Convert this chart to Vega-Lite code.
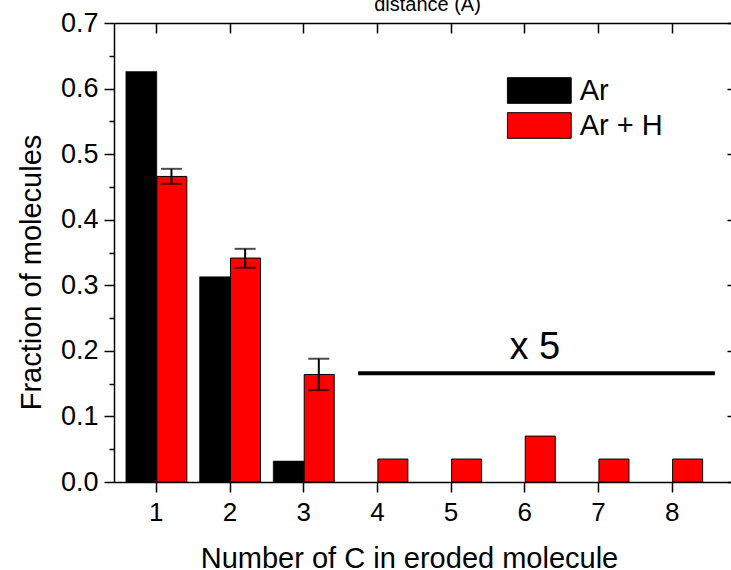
{
  "$schema": "https://vega.github.io/schema/vega-lite/v6.json",
  "autosize": {"type": "none"},
  "width": 617,
  "height": 459,
  "padding": {"left": 114, "top": 23, "right": 0, "bottom": 88},
  "background": "white",
  "config": {
    "font": "Liberation Sans",
    "view": {"stroke": null},
    "axis": {"domainColor": "black", "tickColor": "black", "labelColor": "black", "titleColor": "black", "domainWidth": 1.5, "tickWidth": 1.5, "grid": false, "titleFontWeight": "normal"},
    "legend": {
      "orient": "none", "legendX": 392.7, "legendY": 52.5, "padding": 0,
      "symbolType": "M-1,-0.4H1V0.4H-1Z", "symbolSize": 4096,
      "symbolStrokeColor": "black", "symbolStrokeWidth": 1,
      "labelFontSize": 29, "labelColor": "black", "labelOffset": 8,
      "clipHeight": 30, "rowPadding": 5
    }
  },
  "datasets": {
    "bars": [
      {"n": 1, "series": "Ar", "fraction": 0.626},
      {"n": 2, "series": "Ar", "fraction": 0.313},
      {"n": 3, "series": "Ar", "fraction": 0.032},
      {"n": 1, "series": "Ar + H", "fraction": 0.466, "lo": 0.4547, "hi": 0.4776},
      {"n": 2, "series": "Ar + H", "fraction": 0.3415, "lo": 0.3267, "hi": 0.3556},
      {"n": 3, "series": "Ar + H", "fraction": 0.164, "lo": 0.140, "hi": 0.188},
      {"n": 4, "series": "Ar + H", "fraction": 0.035},
      {"n": 5, "series": "Ar + H", "fraction": 0.035},
      {"n": 6, "series": "Ar + H", "fraction": 0.070},
      {"n": 7, "series": "Ar + H", "fraction": 0.035},
      {"n": 8, "series": "Ar + H", "fraction": 0.035}
    ],
    "scaleline": [{"from": 3.745, "to": 8.587, "level": 0.1658}],
    "scalelabel": [{"pos": 6.144, "level": 0.1876, "text": "x 5"}]
  },
  "resolve": {"axis": {"x": "independent", "y": "independent"}},
  "layer": [
    {
      "data": {"name": "bars"},
      "transform": [{"filter": "datum.series == 'Ar'"}],
      "mark": {"type": "bar", "width": 31, "xOffset": -14.5, "stroke": "black", "strokeWidth": 0.5},
      "encoding": {
        "x": {"field": "n", "type": "quantitative",
              "scale": {"domain": [0.5, 8.738], "nice": false, "zero": false},
              "axis": {"orient": "bottom", "values": [1,2,3,4,5,6,7,8], "tickSize": 10, "labelFontSize": 26, "labelPadding": 7, "labelFlush": false,
                       "title": "Number of C in eroded molecule", "titleFontSize": 29, "titleBaseline": "alphabetic", "titleX": 295, "titleY": 85, "titleAnchor": null, "titleAlign": "center"}},
        "y": {"field": "fraction", "type": "quantitative",
              "scale": {"domain": [0, 0.7], "nice": false},
              "axis": {"orient": "left", "values": [0,0.05,0.1,0.15,0.2,0.25,0.3,0.35,0.4,0.45,0.5,0.55,0.6,0.65,0.7],
                       "labelExpr": "round(datum.value*100) % 10 == 0 ? format(datum.value, '.1f') : ''",
                       "tickSize": {"condition": {"test": "round(datum.value*100) % 10 != 0", "value": 5}, "value": 10},
                       "labelFontSize": 27, "labelPadding": 6, "labelFlush": false,
                       "title": "Fraction of molecules", "titleFontSize": 29, "titleBaseline": "alphabetic", "titleX": -74, "titleY": 249, "titleAngle": -90, "titleAlign": "center"}},
        "color": {"field": "series", "type": "nominal",
                  "scale": {"domain": ["Ar", "Ar + H"], "range": ["#000000", "#ff0000"]},
                  "legend": {"title": null}}
      }
    },
    {
      "data": {"name": "bars"},
      "transform": [{"filter": "datum.series == 'Ar + H'"}],
      "mark": {"type": "bar", "width": 30, "xOffset": 16, "stroke": "black", "strokeWidth": 1},
      "encoding": {
        "x": {"field": "n", "type": "quantitative",
              "axis": {"orient": "top", "values": [1,2,3,4,5,6,7,8], "tickSize": -10, "labels": false,
                       "title": "distance (Å)", "titleFontSize": 20, "titleBaseline": "alphabetic", "titleX": 313, "titleY": -13, "titleAlign": "center"}},
        "y": {"field": "fraction", "type": "quantitative",
              "axis": {"orient": "right", "values": [0,0.1,0.2,0.3,0.4,0.5,0.6,0.7], "tickSize": -4, "labels": false, "domain": false, "title": null}},
        "color": {"field": "series", "type": "nominal", "legend": {"title": null}}
      }
    },
    {
      "data": {"name": "bars"},
      "transform": [{"filter": "isValid(datum.lo)"}],
      "mark": {"type": "rule", "xOffset": 15.6, "strokeWidth": 2, "color": "black"},
      "encoding": {
        "x": {"field": "n", "type": "quantitative", "axis": null},
        "y": {"field": "lo", "type": "quantitative", "axis": null},
        "y2": {"field": "hi"}
      }
    },
    {
      "data": {"name": "bars"},
      "transform": [{"filter": "isValid(datum.lo)"}, {"fold": ["lo", "hi"], "as": ["end", "level"]}],
      "mark": {"type": "tick", "orient": "horizontal", "xOffset": 15.6, "size": 21, "thickness": 2, "color": "black"},
      "encoding": {
        "x": {"field": "n", "type": "quantitative", "axis": null},
        "y": {"field": "level", "type": "quantitative", "axis": null}
      }
    },
    {
      "data": {"name": "scaleline"},
      "mark": {"type": "rule", "strokeWidth": 4, "color": "black"},
      "encoding": {
        "x": {"field": "from", "type": "quantitative", "axis": null},
        "x2": {"field": "to"},
        "y": {"field": "level", "type": "quantitative", "axis": null}
      }
    },
    {
      "data": {"name": "scalelabel"},
      "mark": {"type": "text", "fontSize": 38, "align": "center", "baseline": "alphabetic", "color": "black"},
      "encoding": {
        "x": {"field": "pos", "type": "quantitative", "axis": null},
        "y": {"field": "level", "type": "quantitative", "axis": null},
        "text": {"field": "text"}
      }
    }
  ]
}
